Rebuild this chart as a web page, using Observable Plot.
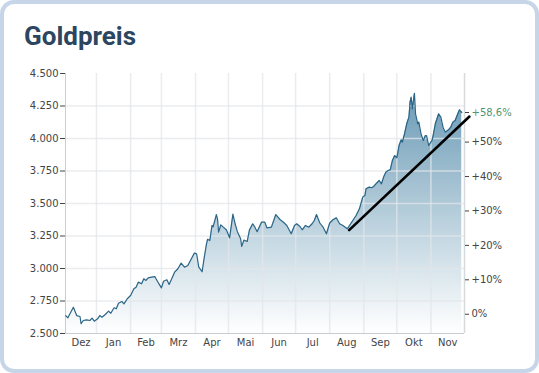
<!DOCTYPE html>
<html><head><meta charset="utf-8">
<script src="https://cdn.jsdelivr.net/npm/d3@7"></script>
<script src="https://cdn.jsdelivr.net/npm/@observablehq/plot@0.6"></script>
<style>
html,body{margin:0;padding:0;background:#fff;width:539px;height:373px;overflow:hidden;}
#card{position:absolute;left:0;top:0;width:539px;height:373px;box-sizing:border-box;border:4px solid #c6d6e8;border-radius:14px;background:#fff;}
#title{position:absolute;left:24px;top:23px;font:700 26px Roboto;line-height:26px;color:#2c4660;white-space:nowrap;}
#chart{position:absolute;left:0;top:0;}
</style></head>
<body>
<div id="card"></div>
<div id="title">Goldpreis</div>
<div id="chart"></div>
<script>
const dates = ["2024-12-04","2024-12-06","2024-12-11","2024-12-14","2024-12-17","2024-12-18","2024-12-20","2024-12-23","2024-12-26","2024-12-28","2024-12-30",
"2025-01-02","2025-01-04","2025-01-06","2025-01-09","2025-01-12","2025-01-14","2025-01-17","2025-01-19","2025-01-21","2025-01-24","2025-01-26","2025-01-29",
"2025-02-01","2025-02-04","2025-02-06","2025-02-08","2025-02-11","2025-02-13","2025-02-15","2025-02-17","2025-02-20","2025-02-23","2025-02-25",
"2025-03-01","2025-03-03","2025-03-06","2025-03-08","2025-03-10","2025-03-13","2025-03-16","2025-03-19","2025-03-22","2025-03-25","2025-03-29","2025-03-31",
"2025-04-02","2025-04-04","2025-04-07","2025-04-09","2025-04-11","2025-04-12","2025-04-14","2025-04-16","2025-04-17","2025-04-20","2025-04-21","2025-04-22","2025-04-24","2025-04-26","2025-04-29",
"2025-05-02","2025-05-05","2025-05-07","2025-05-09","2025-05-12","2025-05-13","2025-05-15","2025-05-18","2025-05-20","2025-05-23","2025-05-25","2025-05-27","2025-05-31",
"2025-06-03","2025-06-05","2025-06-09","2025-06-13","2025-06-17","2025-06-20","2025-06-23","2025-06-27","2025-06-30",
"2025-07-02","2025-07-05","2025-07-07","2025-07-10","2025-07-13","2025-07-16","2025-07-18","2025-07-20","2025-07-23","2025-07-26","2025-07-29",
"2025-08-01","2025-08-04","2025-08-07","2025-08-10","2025-08-13","2025-08-17","2025-08-19","2025-08-22","2025-08-25","2025-08-28","2025-08-31",
"2025-09-02","2025-09-03","2025-09-06","2025-09-08","2025-09-10","2025-09-12","2025-09-15","2025-09-17","2025-09-19","2025-09-21","2025-09-23","2025-09-25","2025-09-27","2025-09-29",
"2025-10-01","2025-10-03","2025-10-05","2025-10-06","2025-10-08","2025-10-10","2025-10-12","2025-10-13","2025-10-14","2025-10-15","2025-10-17","2025-10-18","2025-10-20","2025-10-21","2025-10-23","2025-10-25","2025-10-27","2025-10-28","2025-10-30",
"2025-11-02","2025-11-03","2025-11-05","2025-11-08","2025-11-10","2025-11-12","2025-11-14","2025-11-17","2025-11-19","2025-11-21","2025-11-23","2025-11-26","2025-11-27","2025-11-29"];
const prices = [2638,2621,2702,2638,2631,2575,2600,2605,2600,2618,2595,
2613,2638,2625,2646,2672,2656,2698,2690,2733,2746,2728,2767,
2792,2844,2856,2895,2882,2921,2908,2928,2933,2938,2908,
2851,2902,2913,2877,2913,2972,2998,3041,3010,3023,3087,3118,
3113,3010,2975,3087,3190,3225,3215,3331,3320,3415,3382,3280,3336,3320,3298,
3236,3418,3344,3285,3228,3170,3218,3208,3295,3344,3318,3283,3356,
3356,3312,3318,3415,3375,3356,3331,3267,3331,
3344,3323,3298,3331,3318,3344,3369,3415,3350,3318,3267,
3350,3375,3390,3344,3331,3305,3331,3369,3408,3459,3549,
3562,3613,3626,3621,3631,3651,3677,3651,3703,3741,3754,3759,3831,3869,
3851,3946,3990,3972,4036,4113,4164,4279,4318,4228,4348,4190,4113,4126,4036,3985,4023,4023,3946,
3985,4023,4113,4190,4164,4087,4049,4067,4087,4126,4138,4202,4221,4200];

const months = ["Dez","Jan","Feb","Mrz","Apr","Mai","Jun","Jul","Aug","Sep","Okt","Nov"];
const monthStartDates = ["2025-01-01","2025-02-01","2025-03-01","2025-04-01","2025-05-01","2025-06-01","2025-07-01","2025-08-01","2025-09-01","2025-10-01","2025-11-01"];
const priceTicks = [2500,2750,3000,3250,3500,3750,4000,4250,4500];
const pctTicks = [0,10,20,30,40,50];
const changePct = 58.6;
const changeLabel = "+58,6%";
const trendDates = ["2025-08-18T16:00Z","2025-12-06T00:00Z"];
const trendPrices = [3295,4169];
const domainDates = ["2024-12-03T20:00Z","2025-12-01T12:00Z"];

const data = dates.map((d,i)=>({date:new Date(d), price:prices[i]}));
const trend = trendDates.map((d,i)=>({date:new Date(d), price:trendPrices[i]}));
const lastPrice = prices[prices.length-1];
const base = lastPrice/(1+changePct/100);
const xStart = new Date(domainDates[0]), xEnd = new Date(domainDates[1]);
const monthStarts = monthStartDates.map(d=>new Date(d));
const bounds = [xStart, ...monthStarts, xEnd];
const labelDates = months.map((m,i)=>new Date((+bounds[i] + +bounds[i+1])/2));
const labelMap = new Map(labelDates.map((d,i)=>[+d, months[i]]));
const fmtDE = d => d3.format(",")(d).replace(/,/g,".");
const pctFmt = d => { const p = Math.round((d/base-1)*100); return p===0 ? "0%" : "+"+p+"%"; };

const gridColor = "#e3e6e9";
const chart = Plot.plot({
  width: 539, height: 373,
  marginLeft: 65, marginRight: 75, marginTop: 73, marginBottom: 40,
  style: {fontFamily: "DejaVu Sans", fontSize: "10px", color: "#444", background: "transparent", overflow: "visible"},
  x: {type: "utc", domain: [xStart, xEnd]},
  y: {domain: [2500, 4500]},
  marks: [
    Plot.areaY(data, {x: "date", y1: () => 2500, y2: "price", fill: "url(#goldGrad)"}),
    Plot.ruleY(priceTicks.slice(1, -1), {stroke: gridColor, strokeWidth: 1.5, strokeOpacity: 0.75}),
    Plot.ruleX(monthStarts, {y1: 2500, y2: 4500, stroke: gridColor, strokeWidth: 1.5, strokeOpacity: 0.75}),
    Plot.ruleX([xStart], {y1: 2500, y2: 4500, stroke: "#c9cdd1"}),
    Plot.ruleX([xEnd], {y1: 2500, y2: 4500, stroke: "#d6dadd", strokeWidth: 1.5}),
    Plot.ruleY([2500], {stroke: "#c9cdd1"}),
    Plot.line(data, {x: "date", y: "price", stroke: "#2a6587", strokeWidth: 1.2}),
    Plot.line(trend, {x: "date", y: "price", stroke: "#000", strokeWidth: 2.6, strokeLinecap: "round"}),
    Plot.axisY({ticks: priceTicks, tickFormat: fmtDE, tickSize: 5, tickPadding: 2, label: null}),
    Plot.axisY({anchor: "right", ticks: pctTicks.map(p => base*(1+p/100)), tickFormat: pctFmt, tickSize: 4, tickPadding: 3, label: null}),
    Plot.axisY({anchor: "right", ticks: [lastPrice], tickFormat: () => changeLabel, tickSize: 4, tickPadding: 3, fill: "#4f9675", label: null}),
    Plot.axisX({ticks: labelDates, tickFormat: d => labelMap.get(+d), tickSize: 0, tickPadding: 5, label: null})
  ]
});
const defs = d3.select(chart).insert("defs", ":first-child");
const g = defs.append("linearGradient").attr("id","goldGrad").attr("gradientUnits","userSpaceOnUse")
  .attr("x1",0).attr("x2",0).attr("y1",73).attr("y2",333);
g.append("stop").attr("offset","0%").attr("stop-color","#5f93b0");
g.append("stop").attr("offset","100%").attr("stop-color","#ffffff");
document.getElementById("chart").appendChild(chart);
</script>
</body></html>
